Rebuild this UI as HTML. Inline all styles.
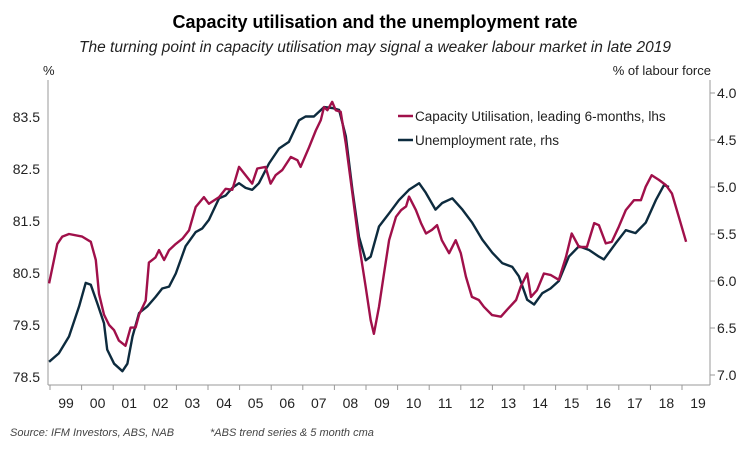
<!DOCTYPE html>
<html><head><meta charset="utf-8"><style>
body{margin:0;background:#fff;font-family:"Liberation Sans",sans-serif}
svg text{font-family:"Liberation Sans",sans-serif}
</style></head><body>
<svg id="chart" width="750" height="450" viewBox="0 0 750 450">
<text x="375" y="28" text-anchor="middle" font-size="18" font-weight="bold" fill="#000">Capacity utilisation and the unemployment rate</text>
<text x="375" y="52" text-anchor="middle" font-size="15.5" font-style="italic" fill="#222">The turning point in capacity utilisation may signal a weaker labour market in late 2019</text>
<text x="43" y="75" font-size="13" fill="#222">%</text>
<text x="711" y="75" text-anchor="end" font-size="13" fill="#222">% of labour force</text>
<line x1="48" y1="80" x2="48" y2="385" stroke="#999"/>
<line x1="710" y1="80" x2="710" y2="385" stroke="#999"/>
<line x1="48" y1="385" x2="710" y2="385" stroke="#999"/>
<g id="axes"></g>
<g id="series"></g>
<g>
<line x1="398" y1="116" x2="413" y2="116" stroke="#a0104a" stroke-width="2.5"/>
<text x="415" y="121" font-size="13.5" fill="#222">Capacity Utilisation, leading 6-months, lhs</text>
<line x1="398" y1="140" x2="413" y2="140" stroke="#0d2b3e" stroke-width="2.5"/>
<text x="415" y="145" font-size="13.5" fill="#222">Unemployment rate, rhs</text>
</g>
<text x="10" y="436" font-size="11" font-style="italic" fill="#444">Source: IFM Investors, ABS, NAB</text>
<text x="210" y="436" font-size="11" font-style="italic" fill="#444">*ABS trend series &amp; 5 month cma</text>
</svg>
<script>
const yearLabels=["99","00","01","02","03","04","05","06","07","08","09","10","11","12","13","14","15","16","17","18","19"];
const leftTicks=[78.5,79.5,80.5,81.5,82.5,83.5];
const rightTicks=[4.0,4.5,5.0,5.5,6.0,6.5,7.0];
const capYears=[1998.97,1999.23,1999.39,1999.6,2000.02,2000.29,2000.45,2000.55,2000.71,2000.87,2001.03,2001.18,2001.39,2001.55,2001.71,2001.82,2002.03,2002.13,2002.34,2002.45,2002.61,2002.77,2002.98,2003.19,2003.4,2003.61,2003.87,2004.03,2004.35,2004.56,2004.77,2004.98,2005.19,2005.4,2005.56,2005.82,2005.98,2006.14,2006.35,2006.62,2006.83,2006.93,2007.2,2007.41,2007.57,2007.67,2007.78,2007.93,2008.04,2008.2,2008.36,2008.57,2008.78,2008.99,2009.15,2009.25,2009.41,2009.57,2009.73,2009.95,2010.11,2010.27,2010.36,2010.58,2010.74,2010.9,2011.09,2011.25,2011.4,2011.63,2011.84,2012.0,2012.16,2012.35,2012.57,2012.73,2012.99,2013.27,2013.46,2013.75,2013.9,2014.1,2014.22,2014.41,2014.63,2014.85,2015.1,2015.33,2015.51,2015.74,2015.99,2016.22,2016.37,2016.59,2016.78,2017.0,2017.22,2017.48,2017.7,2017.85,2018.04,2018.27,2018.49,2018.68,2018.9,2019.13];
const capValues=[80.3,81.06,81.2,81.25,81.2,81.1,80.75,80.1,79.7,79.5,79.4,79.2,79.1,79.45,79.45,79.7,79.97,80.7,80.8,80.94,80.75,80.94,81.06,81.16,81.32,81.77,81.96,81.83,81.96,82.12,82.1,82.54,82.38,82.22,82.51,82.54,82.22,82.38,82.48,82.73,82.67,82.54,82.92,83.24,83.44,83.69,83.63,83.79,83.63,83.6,82.99,82.03,81.06,80.23,79.59,79.33,79.85,80.49,81.13,81.58,81.71,81.78,81.97,81.71,81.46,81.26,81.33,81.42,81.13,80.88,81.13,80.88,80.43,80.04,79.98,79.85,79.69,79.66,79.79,79.98,80.24,80.49,80.04,80.17,80.49,80.46,80.37,80.81,81.26,81.0,81.0,81.46,81.42,81.07,81.1,81.39,81.71,81.9,81.9,82.16,82.38,82.29,82.19,82.03,81.58,81.1];
const unYears=[1998.97,1999.28,1999.6,1999.92,2000.13,2000.29,2000.5,2000.71,2000.81,2001.03,2001.29,2001.45,2001.61,2001.82,2002.08,2002.34,2002.55,2002.77,2002.98,2003.29,2003.61,2003.82,2004.03,2004.35,2004.56,2004.77,2004.98,2005.19,2005.4,2005.61,2005.93,2006.25,2006.56,2006.88,2007.09,2007.35,2007.67,2007.93,2008.15,2008.36,2008.57,2008.78,2008.99,2009.15,2009.41,2009.73,2010.04,2010.36,2010.68,2010.89,2011.2,2011.41,2011.73,2012.05,2012.36,2012.68,2013.0,2013.31,2013.63,2013.84,2014.1,2014.32,2014.58,2014.84,2015.1,2015.42,2015.74,2016.06,2016.37,2016.53,2016.9,2017.22,2017.53,2017.85,2018.17,2018.43,2018.59];
const unValues=[6.86,6.77,6.59,6.27,6.02,6.04,6.24,6.45,6.73,6.88,6.96,6.88,6.59,6.34,6.27,6.17,6.08,6.06,5.92,5.63,5.48,5.44,5.35,5.12,5.09,5.01,4.96,5.01,5.03,4.96,4.75,4.59,4.52,4.29,4.25,4.25,4.15,4.16,4.18,4.46,5.03,5.53,5.78,5.74,5.42,5.28,5.14,5.03,4.96,5.06,5.24,5.17,5.12,5.24,5.38,5.56,5.70,5.81,5.85,5.95,6.2,6.25,6.13,6.08,6.0,5.74,5.63,5.67,5.74,5.77,5.6,5.46,5.49,5.38,5.14,4.98,5.0];
const NS="http://www.w3.org/2000/svg";
const xS=t=>50+(t-1999)*31.6;
const yL=v=>117+(83.5-v)*52;
const yR=v=>93+(v-4.0)*94;
const axes=document.getElementById('axes'),series=document.getElementById('series');
function mk(tag,attrs,parent,txt){const e=document.createElementNS(NS,tag);for(const k in attrs)e.setAttribute(k,attrs[k]);if(txt!==undefined)e.textContent=txt;parent.appendChild(e);return e;}
yearLabels.forEach((l,i)=>{
  const x=xS(1999+i);
  const tk=mk('line',{x1:x,y1:385,x2:x,y2:390,stroke:'#999'},axes);
  
  
  const t=mk('text',{x:x+16,y:408,'text-anchor':'middle','font-size':14,fill:'#222'},axes,l);
  
  
});
leftTicks.forEach(v=>{
  const t=mk('text',{x:40,y:yL(v)+5,'text-anchor':'end','font-size':14,fill:'#222'},axes,v.toFixed(1));
  
  
});
rightTicks.forEach(v=>{
  const tk=mk('line',{x1:710,y1:yR(v),x2:715,y2:yR(v),stroke:'#999'},axes);
  
  
  const t=mk('text',{x:717,y:yR(v)+5,'font-size':14,fill:'#222'},axes,v.toFixed(1));
  
  
});
function path(xs,ys,f){return xs.map((t,i)=>(i?'L':'M')+xS(t).toFixed(1)+','+f(ys[i]).toFixed(1)).join('');}
const pu=mk('path',{d:path(unYears,unValues,yR),fill:'none',stroke:'#0d2b3e','stroke-width':2.4,'stroke-linejoin':'round'},series);


const pc=mk('path',{d:path(capYears,capValues,yL),fill:'none',stroke:'#a0104a','stroke-width':2.4,'stroke-linejoin':'round'},series);


</script>
</body></html>
